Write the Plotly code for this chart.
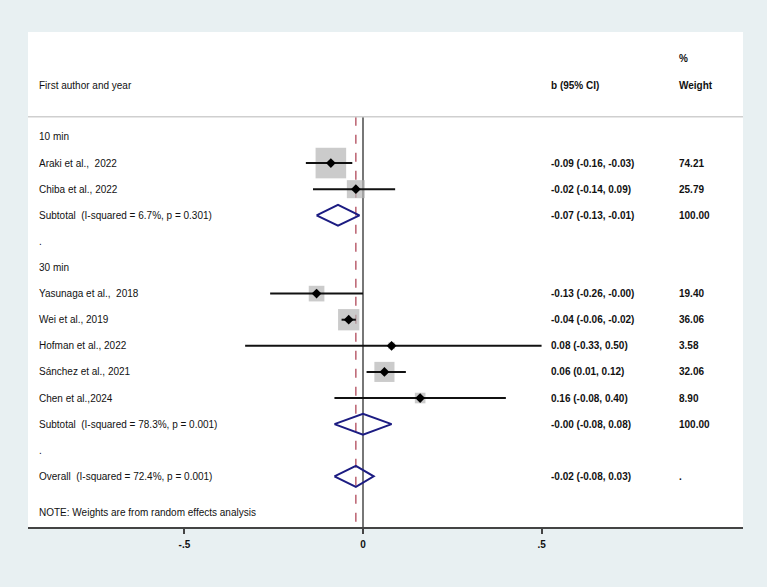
import numpy as np
import plotly.graph_objects as go

# ---- data ----
row_labels = ["10 min", "Araki et al.,  2022", "Chiba et al., 2022",
              "Subtotal  (I-squared = 6.7%, p = 0.301)", ".",
              "30 min", "Yasunaga et al.,  2018", "Wei et al., 2019",
              "Hofman et al., 2022", "Sánchez et al., 2021", "Chen et al.,2024",
              "Subtotal  (I-squared = 78.3%, p = 0.001)", ".",
              "Overall  (I-squared = 72.4%, p = 0.001)"]
row_kind = ["head", "study", "study", "sub", "blank", "head", "study", "study",
            "study", "study", "study", "sub", "blank", "overall"]
est = [None, -0.09, -0.02, -0.07, None, None, -0.13, -0.04, 0.08, 0.06, 0.16, -0.00, None, -0.02]
lo = [None, -0.16, -0.14, -0.13, None, None, -0.26, -0.06, -0.33, 0.01, -0.08, -0.08, None, -0.08]
hi = [None, -0.03, 0.09, -0.01, None, None, -0.00, -0.02, 0.50, 0.12, 0.40, 0.08, None, 0.03]
weight_txt = ["", "74.21", "25.79", "100.00", "", "", "19.40", "36.06", "3.58",
              "32.06", "8.90", "100.00", "", "."]
weights = [None, 74.21, 25.79, None, None, None, 19.40, 36.06, 3.58, 32.06, 8.90, None, None, None]
ci_txt = ["", "-0.09 (-0.16, -0.03)", "-0.02 (-0.14, 0.09)", "-0.07 (-0.13, -0.01)", "", "",
          "-0.13 (-0.26, -0.00)", "-0.04 (-0.06, -0.02)", "0.08 (-0.33, 0.50)",
          "0.06 (0.01, 0.12)", "0.16 (-0.08, 0.40)", "-0.00 (-0.08, 0.08)", "", "-0.02 (-0.08, 0.03)"]
note_text = "NOTE: Weights are from random effects analysis"
tick_vals = [-0.5, 0, 0.5]
tick_text = ["-.5", "0", ".5"]
overall_est = -0.02

# ---- layout constants ----
n = len(row_labels)
ys = list(range(n))
Y_TOP, Y_BOT = -4.02, 14.94
HEADER_LINE = -0.77
FONT = "Arial, Liberation Sans, sans-serif"
TXT = "#111111"

fig = go.Figure()

# grey weight boxes
bx, by, bs = [], [], []
for i in ys:
    if row_kind[i] == "study":
        bx.append(est[i]); by.append(i); bs.append(3.55 * np.sqrt(weights[i]))
fig.add_trace(go.Scatter(x=bx, y=by, mode="markers",
                         marker=dict(symbol="square", size=bs, color="#b5b5b5", line=dict(width=0)),
                         hoverinfo="skip", showlegend=False))

# CI lines
lx, ly = [], []
for i in ys:
    if row_kind[i] == "study":
        lx += [lo[i], hi[i], None]; ly += [i, i, None]
fig.add_trace(go.Scatter(x=lx, y=ly, mode="lines", line=dict(color="#111111", width=2),
                         hoverinfo="skip", showlegend=False))

# point estimates
fig.add_trace(go.Scatter(x=[est[i] for i in ys if row_kind[i] == "study"],
                         y=[i for i in ys if row_kind[i] == "study"], mode="markers",
                         marker=dict(symbol="diamond", size=7.5, color="#000000"),
                         hoverinfo="skip", showlegend=False))

# reference lines
fig.add_shape(type="line", xref="x", yref="y", x0=0, x1=0, y0=HEADER_LINE, y1=Y_BOT,
              line=dict(color="#4a4a4a", width=1.5), layer="below")
fig.add_shape(type="line", xref="x", yref="y", x0=overall_est, x1=overall_est, y0=HEADER_LINE, y1=Y_BOT,
              line=dict(color="#b04a5a", width=1.3, dash="dash"), layer="below")

# pooled diamonds
h = 0.4
for i in ys:
    if row_kind[i] in ("sub", "overall"):
        fig.add_trace(go.Scatter(x=[lo[i], est[i], hi[i], est[i], lo[i]],
                                 y=[i, i - h, i, i + h, i], mode="lines", fill="toself",
                                 fillcolor="rgba(255,255,255,0)",
                                 line=dict(color="#1c1c82", width=2),
                                 hoverinfo="skip", showlegend=False))

# header separator
fig.add_shape(type="line", xref="paper", yref="y", x0=0, x1=1, y0=HEADER_LINE, y1=HEADER_LINE,
              line=dict(color="#cfcfcf", width=1.5))

X_LAB, X_CI, X_W = 0.0126, 0.729, 0.908
ann = []
def txt(x, y, s, bold=False):
    ann.append(dict(x=x, y=y, xref="paper", yref="y", text=(f"<b>{s}</b>" if bold else s),
                    showarrow=False, xanchor="left", yanchor="middle",
                    font=dict(family=FONT, size=10, color=TXT)))

txt(X_LAB, -1.99, "First author and year")
txt(X_CI, -1.99, "b (95% CI)", bold=True)
txt(X_W, -2.99, "%", bold=True)
txt(X_W, -1.99, "Weight", bold=True)
for i in ys:
    txt(X_LAB, i, row_labels[i])
    if ci_txt[i]:
        txt(X_CI, i, ci_txt[i], bold=True)
    if weight_txt[i]:
        txt(X_W, i, weight_txt[i], bold=True)
txt(X_LAB, 14.4, note_text)

fig.update_layout(
    width=767, height=587,
    margin=dict(l=28, r=24, t=32, b=60),
    paper_bgcolor="#e8f0f2", plot_bgcolor="#ffffff",
    annotations=ann, showlegend=False,
    xaxis=dict(range=[-0.938, 1.064], tickvals=tick_vals, ticktext=[f"<b>{t}</b>" for t in tick_text],
               ticks="outside", ticklen=5, tickwidth=2, tickcolor="#444444",
               showline=True, linecolor="#444444", linewidth=2,
               showgrid=False, zeroline=False, fixedrange=True, ticklabelstandoff=2,
               tickfont=dict(family=FONT, size=10, color=TXT)),
    yaxis=dict(range=[Y_BOT, Y_TOP], visible=False, showgrid=False, zeroline=False, fixedrange=True),
)

fig.write_html("out.html")
